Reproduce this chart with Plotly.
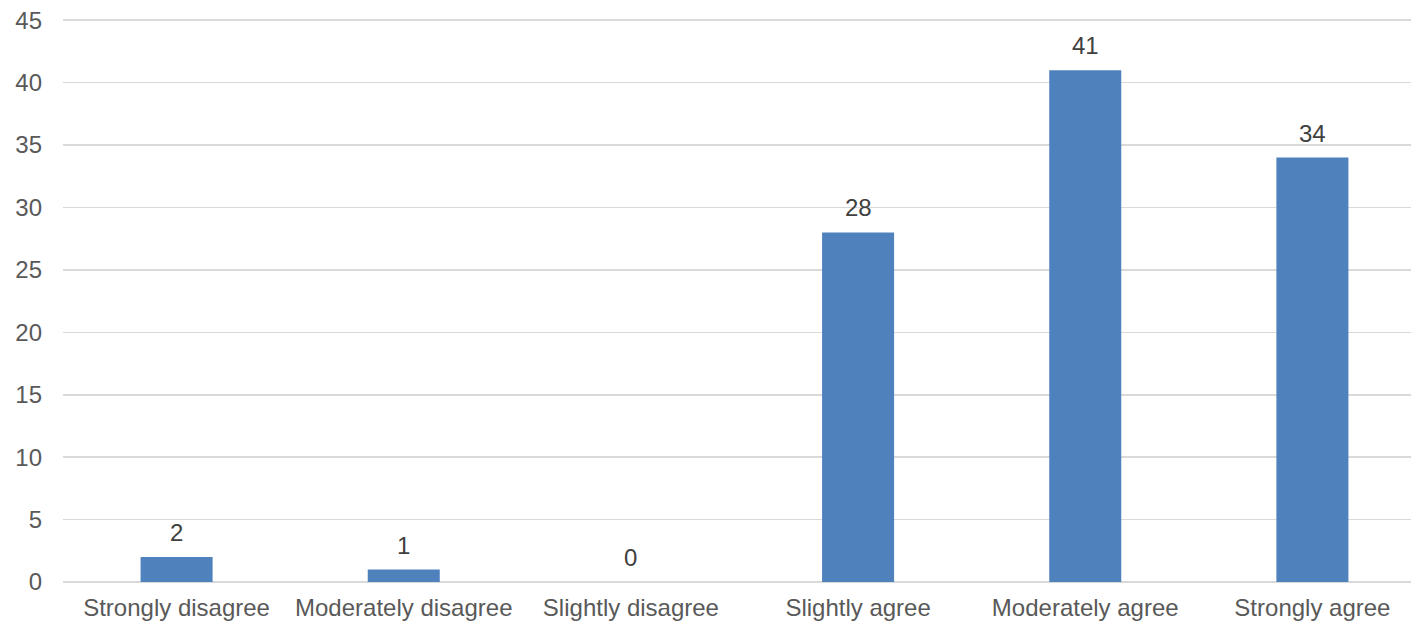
import plotly.graph_objects as go

categories = ["Strongly disagree", "Moderately disagree", "Slightly disagree",
              "Slightly agree", "Moderately agree", "Strongly agree"]
counts = [2, 1, 0, 28, 41, 34]
y_ticks = [0, 5, 10, 15, 20, 25, 30, 35, 40, 45]

x_idx = list(range(len(categories)))
FONT = "Liberation Sans, Arial"

fig = go.Figure()
fig.add_trace(go.Bar(
    x=x_idx, y=counts, width=0.317,
    marker=dict(color="#4f81bd", line=dict(width=0)),
    hoverinfo="skip",
))
for xi, v in zip(x_idx, counts):
    fig.add_annotation(x=xi, y=v, text=str(v), showarrow=False,
                       yanchor="bottom", yshift=9,
                       font=dict(family=FONT, size=24, color="#404040"))

fig.update_layout(
    width=1411, height=623,
    margin=dict(l=63, r=0, t=14, b=41),
    paper_bgcolor="white", plot_bgcolor="white",
    showlegend=False,
    font=dict(family=FONT, size=24, color="#595959"),
    xaxis=dict(
        range=[-0.5, 5.434],
        tickmode="array", tickvals=x_idx, ticktext=categories,
        showgrid=False, zeroline=False, showline=False, ticks="",
        ticklabelstandoff=9,
        tickfont=dict(family=FONT, size=24, color="#595959"),
    ),
    yaxis=dict(
        range=[0, 45.5],
        tickmode="array", tickvals=y_ticks,
        showgrid=True, gridcolor="#d9d9d9", gridwidth=1.5,
        zeroline=True, zerolinecolor="#d9d9d9", zerolinewidth=1.5,
        showline=False, ticks="",
        ticklabelstandoff=20,
        tickfont=dict(family=FONT, size=24, color="#595959"),
    ),
)

html = fig.to_html(full_html=True, include_plotlyjs=True,
                   config={"displayModeBar": False, "staticPlot": True})
html = html.replace("<head>", "<head><style>html,body{margin:0;padding:0;overflow:hidden;}</style>", 1)
with open("out.html", "w", encoding="utf-8") as f:
    f.write(html)
